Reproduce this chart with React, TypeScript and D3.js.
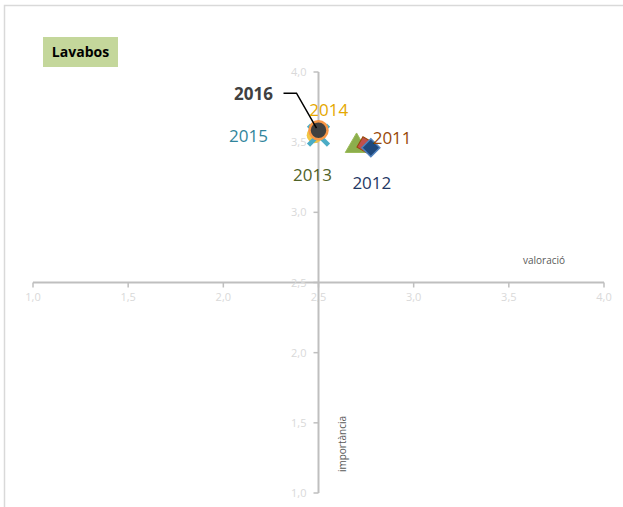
import React from "react";
import * as d3 from "d3";

const years = ["2011", "2012", "2013", "2014", "2015", "2016"];
const valoracio = [2.745, 2.775, 2.70, 2.48, 2.5, 2.5];
const importancia = [3.48, 3.46, 3.48, 3.55, 3.55, 3.585];
const xTicks = [1.0, 1.5, 2.0, 2.5, 3.0, 3.5, 4.0];
const yTicks = [1.0, 1.5, 2.0, 2.5, 3.0, 3.5, 4.0];

const labelColors = ["#984807", "#1f3864", "#4f6228", "#e5a800", "#31859c", "#404040"];
const labelOffsets: [number, number][] = [
  [27, -1],
  [1, 41],
  [-44, 36],
  [14, -19],
  [-70, 7],
  [-65, -30],
];

const fmt = (v: number) => v.toFixed(1).replace(".", ",");

export default function App() {
  const W = 623, H = 507;
  const x = d3.scaleLinear().domain([1, 4]).range([33, 604]);
  const y = d3.scaleLinear().domain([1, 4]).range([493, 72]);
  const x0 = x(2.5), y0 = y(2.5);
  const font = "'Open Sans', 'Liberation Sans', sans-serif";
  const axisColor = "#bfbfbf";
  const tickLabel = "#d9d9d9";

  const tri = d3.symbol().type(d3.symbolTriangle).size(220)();
  const diamond = "M0,-9L9,0L0,9L-9,0Z";

  const pts = years.map((yr, i) => ({ yr, px: x(valoracio[i]), py: y(importancia[i]) }));

  return (
    <svg width={W} height={H} style={{ position: "absolute", left: 0, top: 0, background: "#fff" }}>
      <rect x={4.5} y={5.5} width={700} height={600} fill="#fff" stroke="#d9d9d9" strokeWidth={1.5} />
      <rect x={43} y={37} width={75} height={30} fill="#c4d79b" />
      <text x={80.5} y={57} textAnchor="middle" fontFamily={font} fontWeight="bold" fontSize={14} fill="#000">Lavabos</text>

      <line x1={x(1)} x2={x(4)} y1={y0} y2={y0} stroke={axisColor} strokeWidth={2} />
      {xTicks.map((t) => (
        <g key={"x" + t}>
          <line x1={x(t)} x2={x(t)} y1={y0} y2={y0 + 5} stroke={axisColor} strokeWidth={1.5} />
          <text x={x(t)} y={y0 + 18} textAnchor="middle" fontFamily={font} fontSize={11} fill={tickLabel}>{fmt(t)}</text>
        </g>
      ))}
      <line x1={x0} x2={x0} y1={y(4)} y2={y(1)} stroke={axisColor} strokeWidth={2} />
      {yTicks.map((t) => (
        <g key={"y" + t}>
          <line x1={x0 - 5} x2={x0} y1={y(t)} y2={y(t)} stroke={axisColor} strokeWidth={1.5} />
          <text x={x0 - 12} y={y(t) + 4} textAnchor="end" fontFamily={font} fontSize={11} fill={tickLabel}>{fmt(t)}</text>
        </g>
      ))}
      <text x={523} y={264} fontFamily={font} fontSize={10} fill="#595959">valoració</text>
      <text transform={`translate(346,444) rotate(-90)`} textAnchor="middle" fontFamily={font} fontSize={10} fill="#595959">importància</text>

      {/* markers */}
      <path d={tri!} transform={`translate(${pts[2].px},${pts[2].py + 1})`} fill="#8cae4c" stroke="#9bbb59" strokeWidth={1} />
      <rect x={pts[0].px - 6} y={pts[0].py - 6} width={12} height={12} fill="#c0504d" stroke="#984807" strokeWidth={1} transform={`rotate(30 ${pts[0].px} ${pts[0].py})`} />
      <path d={diamond} transform={`translate(${pts[1].px},${pts[1].py})`} fill="#1f497d" stroke="#4f81bd" strokeWidth={1.5} />
      <circle cx={pts[3].px} cy={pts[3].py} r={8} fill="#f2c744" />
      <g transform={`translate(${pts[4].px},${pts[4].py})`} stroke="#4bacc6" strokeWidth={4.5}>
        <line x1={-10} y1={-10} x2={10} y2={10} />
        <line x1={-10} y1={10} x2={10} y2={-10} />
      </g>
      <circle cx={pts[5].px} cy={pts[5].py} r={9} fill="#404040" stroke="#f79646" strokeWidth={2.5} />

      <polyline points={`${pts[5].px - 35},${pts[5].py - 37} ${pts[5].px - 22},${pts[5].py - 37} ${pts[5].px - 2},${pts[5].py - 2}`} fill="none" stroke="#000" strokeWidth={1.5} />

      {pts.map((p, i) => (
        <text key={p.yr} x={p.px + labelOffsets[i][0]} y={p.py + labelOffsets[i][1]}
          textAnchor="middle" fontFamily={font} fontSize={17}
          fontWeight={i === 5 ? "bold" : "normal"} fill={labelColors[i]}>{p.yr}</text>
      ))}
    </svg>
  );
}
